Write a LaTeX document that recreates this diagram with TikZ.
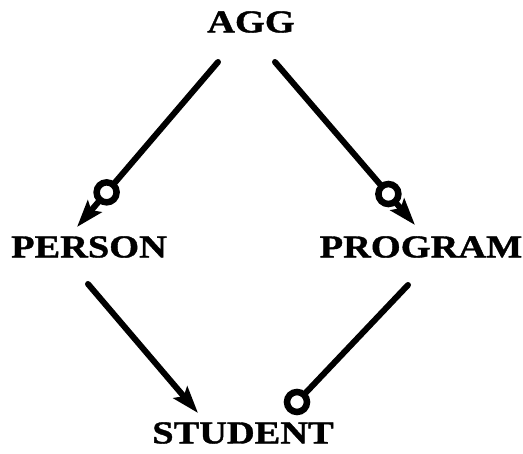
\documentclass[tikz,border=0pt]{standalone}
\usepackage{fontspec}
\setmainfont{Liberation Serif}[FakeStretch=1.2,FakeBold=1.2]
\usetikzlibrary{arrows.meta}
\begin{document}
\begin{tikzpicture}[x=1pt,y=-1pt,
  lbl/.style={font=\fontsize{32}{32}\selectfont\bfseries, inner sep=0pt},
  conn/.style={line width=6pt, line cap=round},
  arr/.style={conn, -{Stealth[length=27pt,width=18pt,inset=5pt]}},
  ring/.style={circle, draw, line width=6.5pt, fill=white, minimum size=20pt, inner sep=0pt}]
\useasboundingbox (0,0) rectangle (523,454);
\node[lbl] (agg) at (251,22) {AGG};
\node[lbl] (person) at (89,247) {PERSON};
\node[lbl] (program) at (421,247) {PROGRAM};
\node[lbl] (student) at (243,433) {STUDENT};
\coordinate (a1) at (218,62);
\coordinate (p1) at (77,227);
\coordinate (a2) at (275,62);
\coordinate (q1) at (415,225);
\coordinate (p2) at (88,284);
\coordinate (s1) at (198,413);
\coordinate (q2) at (408,285);
\coordinate (s2) at (297,402);
\draw[arr] (a1) -- node[ring, pos=0.79]{} (p1);
\draw[arr] (a2) -- node[ring, pos=0.81]{} (q1);
\draw[arr] (p2) -- (s1);
\draw[conn] (q2) -- (s2);
\node[ring] at (s2) {};
\end{tikzpicture}
\end{document}
